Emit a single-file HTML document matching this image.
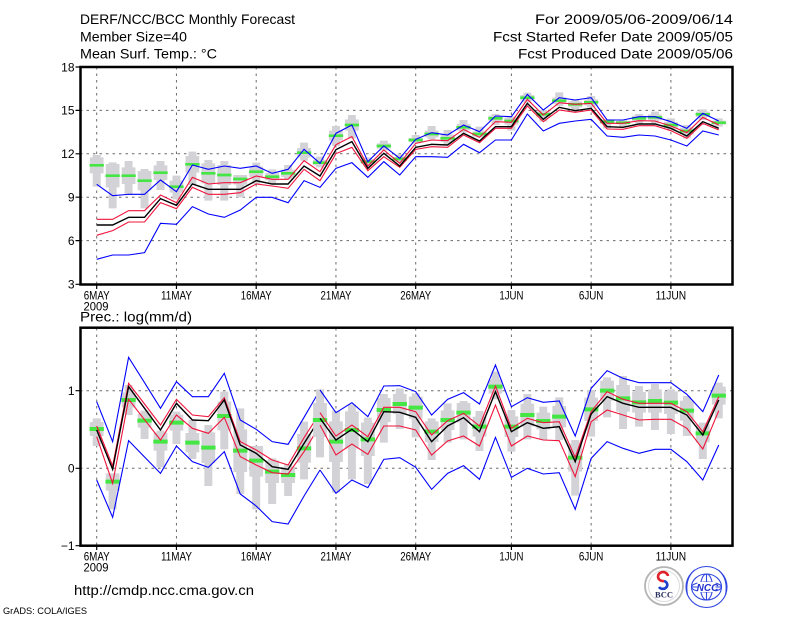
<!DOCTYPE html>
<html><head><meta charset="utf-8"><style>
html,body{margin:0;padding:0;background:#fff;}
svg{display:block;}
.tx{font-family:"Liberation Sans",sans-serif;fill:#000;}
.d polyline{fill:none;vector-effect:non-scaling-stroke;stroke-linejoin:miter;}
.bu{stroke:#0000ff;stroke-width:1.1;}
.rd{stroke:#f0143c;stroke-width:1.1;}
.bk{stroke:#000;stroke-width:1.4;}
.gw{fill:#d3d3d7;}
.gn{fill:#44e644;}
.grid{stroke:#6a6a6a;stroke-width:1;stroke-dasharray:2.5,4;fill:none;}
.tk{stroke:#000;stroke-width:1.2;}
</style></head><body>
<svg width="800" height="618" viewBox="0 0 800 618" xmlns="http://www.w3.org/2000/svg">
<rect width="800" height="618" fill="#fff"/>

<!-- Header -->
<text class="tx" x="80" y="24" font-size="14" textLength="215" lengthAdjust="spacingAndGlyphs">DERF/NCC/BCC Monthly Forecast</text>
<text class="tx" x="80" y="41.5" font-size="14" textLength="107" lengthAdjust="spacingAndGlyphs">Member Size=40</text>
<text class="tx" x="80" y="58.5" font-size="14" textLength="137" lengthAdjust="spacingAndGlyphs">Mean Surf. Temp.: °C</text>
<text class="tx" x="733" y="24" font-size="14" text-anchor="end" textLength="198" lengthAdjust="spacingAndGlyphs">For 2009/05/06-2009/06/14</text>
<text class="tx" x="733" y="41.5" font-size="14" text-anchor="end" textLength="240" lengthAdjust="spacingAndGlyphs">Fcst Started Refer Date 2009/05/05</text>
<text class="tx" x="733" y="58.5" font-size="14" text-anchor="end" textLength="215" lengthAdjust="spacingAndGlyphs">Fcst Produced Date 2009/05/06</text>

<!-- TOP CHART grid -->
<g class="grid">
<path d="M80 110.4H733M80 153.8H733M80 197.2H733M80 240.6H733"/>
<path d="M96.7 67V284M176.45 67V284M256.2 67V284M335.95 67V284M415.7 67V284M511.4 67V284M591.15 67V284M670.9 67V284"/>
</g>

<!-- TOP CHART data -->
<g class="d" transform="matrix(15.95 0 0 0.333333 96.7 60)">
<path class="gw" d="M-.25 285h.5v95h-.5zM.75 307h.5v138h-.5zM1.75 303h.5v102h-.5zM2.75 327h.5v118h-.5zM3.75 303h.5v87h-.5zM4.75 347h.5v71h-.5zM5.75 275h.5v100h-.5zM6.75 300h.5v122h-.5zM7.75 303h.5v119h-.5zM8.75 345h.5v67h-.5zM9.75 308h.5v64h-.5zM10.75 328h.5v44h-.5zM11.75 315h.5v43h-.5zM12.75 248h.5v54h-.5zM13.75 290h.5v32h-.5zM14.75 198h.5v60h-.5zM15.75 165h.5v70h-.5zM16.75 292h.5v28h-.5zM17.75 242h.5v30h-.5zM18.75 283h.5v25h-.5zM19.75 225h.5v25h-.5zM20.75 198h.5v40h-.5zM21.75 210h.5v42h-.5zM22.75 180h.5v38h-.5zM23.75 200h.5v32h-.5zM24.75 162h.5v33h-.5zM25.75 170h.5v42h-.5zM26.75 98h.5v30h-.5zM27.75 150h.5v35h-.5zM28.75 97h.5v41h-.5zM29.75 118h.5v37h-.5zM30.75 108h.5v34h-.5zM31.75 178h.5v27h-.5zM32.75 180h.5v20h-.5zM33.75 162h.5v30h-.5zM34.75 155h.5v35h-.5zM35.75 175h.5v37h-.5zM36.75 195h.5v40h-.5zM37.75 148h.5v32h-.5zM38.75 175h.5v25h-.5z"/>
<path class="gw" d="M-.43 292h.86v48h-.86zM.57 312h.86v70h-.86zM1.57 322h.86v50h-.86zM2.57 333h.86v58h-.86zM3.57 316h.86v44h-.86zM4.57 362h.86v36h-.86zM5.57 288h.86v50h-.86zM6.57 310h.86v60h-.86zM7.57 315h.86v60h-.86zM8.57 345h.86v29h-.86zM9.57 319h.86v32h-.86zM10.57 339h.86v22h-.86zM11.57 329h.86v22h-.86zM12.57 264h.86v28h-.86zM13.57 300h.86v16h-.86zM14.57 212h.86v30h-.86zM15.57 178h.86v34h-.86zM16.57 298h.86v14h-.86zM17.57 250h.86v16h-.86zM18.57 291h.86v12h-.86zM19.57 234h.86v12h-.86zM20.57 212h.86v20h-.86zM21.57 224h.86v22h-.86zM22.57 192h.86v20h-.86zM23.57 214h.86v16h-.86zM24.57 167h.86v16h-.86zM25.57 172h.86v22h-.86zM26.57 105h.86v16h-.86zM27.57 154h.86v18h-.86zM28.57 112h.86v20h-.86zM29.57 124h.86v18h-.86zM30.57 118h.86v18h-.86zM31.57 178h.86v14h-.86zM32.57 183h.86v10h-.86zM33.57 167h.86v16h-.86zM34.57 163h.86v18h-.86zM35.57 186h.86v18h-.86zM36.57 203h.86v20h-.86zM37.57 155h.86v16h-.86zM38.57 182h.86v12h-.86z"/>
<path class="gn" d="M-.45 312h.9v8h-.9zM.55 343h.9v8h-.9zM1.55 343h.9v8h-.9zM2.55 358h.9v8h-.9zM3.55 334h.9v8h-.9zM4.55 376h.9v8h-.9zM5.55 309h.9v8h-.9zM6.55 336h.9v8h-.9zM7.55 341h.9v8h-.9zM8.55 353h.9v8h-.9zM9.55 331h.9v8h-.9zM10.55 346h.9v8h-.9zM11.55 336h.9v8h-.9zM12.55 274h.9v8h-.9zM13.55 304h.9v8h-.9zM14.55 223h.9v8h-.9zM15.55 191h.9v8h-.9zM16.55 301h.9v8h-.9zM17.55 254h.9v8h-.9zM18.55 293h.9v8h-.9zM19.55 236h.9v8h-.9zM20.55 218h.9v8h-.9zM21.55 231h.9v8h-.9zM22.55 198h.9v8h-.9zM23.55 218h.9v8h-.9zM24.55 171h.9v8h-.9zM25.55 179h.9v8h-.9zM26.55 109h.9v8h-.9zM27.55 159h.9v8h-.9zM28.55 118h.9v8h-.9zM29.55 129h.9v8h-.9zM30.55 123h.9v8h-.9zM31.55 181h.9v8h-.9zM32.55 184h.9v8h-.9zM33.55 171h.9v8h-.9zM34.55 168h.9v8h-.9zM35.55 191h.9v8h-.9zM36.55 209h.9v8h-.9zM37.55 159h.9v8h-.9zM38.55 184h.9v8h-.9z"/>
<polyline class="bu" points="0,373 1,407 2,403 3,403 4,360 5,395 6,315 7,328 8,318 9,325 10,318 11,340 12,328 13,268 14,310 15,220 16,195 17,305 18,258 19,295 20,238 21,218 22,225 23,195 24,215 25,168 26,170 27,103 28,150 29,113 30,120 31,113 32,180 33,180 34,170 35,170 36,185 37,205 38,160 39,183"/>
<polyline class="bu" points="0,598 1,585 2,585 3,578 4,490 5,493 6,440 7,462 8,472 9,450 10,412 11,412 12,428 13,362 14,382 15,325 16,308 17,352 18,305 19,345 20,290 21,290 22,292 23,253 24,278 25,240 26,240 27,162 28,213 29,190 30,183 31,178 32,228 33,232 34,225 35,228 36,240 37,258 38,213 39,225"/>
<polyline class="rd" points="0,478 1,478 2,452 3,452 4,405 5,428 6,352 7,372 8,368 9,368 10,348 11,358 12,358 13,302 14,335 15,254 16,230 17,318 18,270 19,310 20,250 21,240 22,242 23,208 24,232 25,185 26,187 27,118 28,165 29,128 30,133 31,130 32,190 33,190 34,182 35,183 36,198 37,218 38,172 39,195"/>
<polyline class="rd" points="0,526 1,512 2,486 3,486 4,428 5,446 6,382 7,403 8,403 9,398 10,372 11,378 12,385 13,328 14,362 15,281 16,262 17,332 18,290 19,322 20,268 21,260 22,262 23,225 24,248 25,205 26,205 27,138 28,185 29,150 30,157 31,150 32,207 33,208 34,197 35,197 36,212 37,235 38,190 39,210"/>
<polyline class="bk" points="0,495 1,495 2,472 3,472 4,416 5,436 6,372 7,388 8,388 9,388 10,362 11,372 12,372 13,318 14,348 15,269 16,245 17,325 18,280 19,318 20,262 21,253 22,255 23,220 24,243 25,200 26,200 27,130 28,178 29,142 30,152 31,145 32,200 33,202 34,192 35,192 36,205 37,228 38,185 39,205"/>
</g>

<!-- TOP frame, ticks, labels -->
<rect x="80.5" y="67" width="652" height="217.5" fill="none" stroke="#000" stroke-width="2.5"/>
<path class="tk" d="M75.5 67H80M75.5 110.4H80M75.5 153.8H80M75.5 197.2H80M75.5 240.6H80M75.5 284.3H80"/>
<path class="tk" d="M96.7 284.5V289M176.45 284.5V289M256.2 284.5V289M335.95 284.5V289M415.7 284.5V289M511.4 284.5V289M591.15 284.5V289M670.9 284.5V289"/>
<g class="tx" font-size="12" text-anchor="end">
<text x="74.5" y="71.3">18</text>
<text x="74.5" y="114.7">15</text>
<text x="74.5" y="158.1">12</text>
<text x="74.5" y="201.5">9</text>
<text x="74.5" y="244.9">6</text>
<text x="74.5" y="288.6">3</text>
</g>
<g class="tx" font-size="12" text-anchor="middle">
<text x="96.7" y="299.5" textLength="26" lengthAdjust="spacingAndGlyphs">6MAY</text>
<text x="96" y="310.5" textLength="25" lengthAdjust="spacingAndGlyphs">2009</text>
<text x="176.45" y="299.5" textLength="31" lengthAdjust="spacingAndGlyphs">11MAY</text>
<text x="256.2" y="299.5" textLength="31" lengthAdjust="spacingAndGlyphs">16MAY</text>
<text x="335.95" y="299.5" textLength="31" lengthAdjust="spacingAndGlyphs">21MAY</text>
<text x="415.7" y="299.5" textLength="31" lengthAdjust="spacingAndGlyphs">26MAY</text>
<text x="511.4" y="299.5" textLength="24" lengthAdjust="spacingAndGlyphs">1JUN</text>
<text x="591.15" y="299.5" textLength="24.5" lengthAdjust="spacingAndGlyphs">6JUN</text>
<text x="670.9" y="299.5" textLength="30.5" lengthAdjust="spacingAndGlyphs">11JUN</text>
</g>

<text class="tx" x="80" y="321.5" font-size="13.5" textLength="112" lengthAdjust="spacingAndGlyphs">Prec.: log(mm/d)</text>

<!-- BOTTOM CHART grid -->
<g class="grid">
<path d="M80 390.7H733M80 468.3H733"/>
<path d="M96.7 328V545M176.45 328V545M256.2 328V545M335.95 328V545M415.7 328V545M511.4 328V545M591.15 328V545M670.9 328V545"/>
</g>

<!-- BOTTOM data part A (days 0-14) -->
<g class="d" transform="matrix(15.95 0 0 0.333333 96.7 340)">
<path class="gw" d="M-.25 235h.5v83h-.5zM.75 400h.5v108h-.5zM1.75 135h.5v90h-.5zM2.75 212h.5v85h-.5zM3.75 272h.5v110h-.5zM4.75 215h.5v97h-.5zM5.75 240h.5v117h-.5zM6.75 255h.5v183h-.5zM7.75 155h.5v173h-.5zM8.75 205h.5v257h-.5zM9.75 318h.5v190h-.5zM10.75 355h.5v137h-.5zM11.75 372h.5v96h-.5zM12.75 245h.5v173h-.5z"/>
<path class="gw" d="M-.43 246h.86v42h-.86zM.57 400h.86v52h-.86zM1.57 158h.86v44h-.86zM2.57 221h.86v42h-.86zM3.57 278h.86v54h-.86zM4.57 224h.86v48h-.86zM5.57 279h.86v58h-.86zM6.57 277h.86v92h-.86zM7.57 185h.86v86h-.86zM8.57 268h.86v128h-.86zM9.57 318h.86v92h-.86zM10.57 361h.86v68h-.86zM11.57 381h.86v48h-.86zM12.57 282h.86v86h-.86z"/>
<path class="gn" d="M-.45 261h.9v12h-.9zM.55 419h.9v12h-.9zM1.55 174h.9v12h-.9zM2.55 236h.9v12h-.9zM3.55 299h.9v12h-.9zM4.55 242h.9v12h-.9zM5.55 302h.9v12h-.9zM6.55 317h.9v12h-.9zM7.55 222h.9v12h-.9zM8.55 326h.9v12h-.9zM9.55 356h.9v12h-.9zM10.55 389h.9v12h-.9zM11.55 399h.9v12h-.9zM12.55 319h.9v12h-.9z"/>
<polyline class="bu" points="0,185 1,305 2,52 3,128 4,205 5,125 6,170 7,170 8,100 9,240 10,268 11,305 12,313 13,232 14,150"/>
<polyline class="bu" points="0,420 1,532 2,302 3,351 4,400 5,318 6,365 7,382 8,335 9,462 10,498 11,545 12,552 13,468 14,390"/>
<polyline class="rd" points="0,258 1,378 2,130 3,192 4,255 5,178 6,225 7,230 8,173 9,305 10,330 11,360 12,375 13,293 14,218"/>
<polyline class="rd" points="0,290 1,430 2,178 3,239 4,300 5,225 6,265 7,280 8,232 9,350 10,375 11,398 12,402 13,335 14,255"/>
<polyline class="bk" points="0,270 1,388 2,140 3,205 4,270 5,190 6,240 7,242 8,180 9,315 10,340 11,380 12,388 13,310 14,235"/>
</g>

<!-- BOTTOM data part B (days 14-39) -->
<g class="d" transform="matrix(15.95 0 0 0.333333 96.7 350)">
<path class="gw" d="M13.75 118h.5v204h-.5zM14.75 182h.5v246h-.5zM15.75 163h.5v225h-.5zM16.75 203h.5v199h-.5zM17.75 132h.5v146h-.5zM18.75 115h.5v122h-.5zM19.75 130h.5v132h-.5zM20.75 205h.5v125h-.5zM21.75 160h.5v118h-.5zM22.75 153h.5v115h-.5zM23.75 183h.5v120h-.5zM24.75 65h.5v83h-.5zM25.75 180h.5v125h-.5zM26.75 132h.5v136h-.5zM27.75 170h.5v100h-.5zM28.75 142h.5v128h-.5zM29.75 270h.5v167h-.5zM30.75 120h.5v140h-.5zM31.75 82h.5v120h-.5zM32.75 78h.5v159h-.5zM33.75 108h.5v122h-.5zM34.75 102h.5v138h-.5zM35.75 118h.5v134h-.5zM36.75 138h.5v120h-.5zM37.75 218h.5v109h-.5zM38.75 98h.5v107h-.5z"/>
<path class="gw" d="M13.57 159h.86v102h-.86zM14.57 214h.86v122h-.86zM15.57 184h.86v112h-.86zM16.57 218h.86v100h-.86zM17.57 144h.86v72h-.86zM18.57 132h.86v60h-.86zM19.57 140h.86v66h-.86zM20.57 214h.86v62h-.86zM21.57 181h.86v59h-.86zM22.57 159h.86v58h-.86zM23.57 200h.86v60h-.86zM24.57 89h.86v42h-.86zM25.57 199h.86v62h-.86zM26.57 161h.86v68h-.86zM27.57 188h.86v50h-.86zM28.57 168h.86v64h-.86zM29.57 281h.86v84h-.86zM30.57 143h.86v70h-.86zM31.57 92h.86v60h-.86zM32.57 105h.86v80h-.86zM33.57 126h.86v62h-.86zM34.57 118h.86v70h-.86zM35.57 124h.86v68h-.86zM36.57 152h.86v60h-.86zM37.57 223h.86v54h-.86zM38.57 110h.86v54h-.86z"/>
<path class="gn" d="M13.55 204h.9v12h-.9zM14.55 269h.9v12h-.9zM15.55 234h.9v12h-.9zM16.55 262h.9v12h-.9zM17.55 174h.9v12h-.9zM18.55 156h.9v12h-.9zM19.55 167h.9v12h-.9zM20.55 239h.9v12h-.9zM21.55 204h.9v12h-.9zM22.55 182h.9v12h-.9zM23.55 224h.9v12h-.9zM24.55 104h.9v12h-.9zM25.55 224h.9v12h-.9zM26.55 189h.9v12h-.9zM27.55 207h.9v12h-.9zM28.55 194h.9v12h-.9zM29.55 317h.9v12h-.9zM30.55 172h.9v12h-.9zM31.55 116h.9v12h-.9zM32.55 139h.9v12h-.9zM33.55 151h.9v12h-.9zM34.55 147h.9v12h-.9zM35.55 152h.9v12h-.9zM36.55 176h.9v12h-.9zM37.55 244h.9v12h-.9zM38.55 131h.9v12h-.9z"/>
<polyline class="bu" points="14,120 15,188 16,158 17,200 18,108 19,107 20,125 21,195 22,148 23,128 24,162 25,45 26,170 27,143 28,157 29,153 30,258 31,115 32,62 33,85 34,98 35,98 36,98 37,133 38,185 39,75"/>
<polyline class="bu" points="14,360 15,430 16,390 17,413 18,328 19,323 20,352 21,418 22,370 23,347 24,388 25,262 26,382 27,355 28,372 29,368 30,478 31,325 32,275 33,295 34,310 35,298 36,298 37,335 38,390 39,285"/>
<polyline class="rd" points="14,188 15,258 16,225 17,260 18,172 19,172 20,185 21,255 22,212 23,190 24,228 25,108 26,235 27,205 28,218 29,215 30,322 31,185 32,125 33,148 34,160 35,160 36,160 37,185 38,245 39,140"/>
<polyline class="rd" points="14,225 15,315 16,282 17,313 18,228 19,228 20,240 21,315 22,273 23,258 24,288 25,165 26,288 27,258 28,270 29,272 30,380 31,215 32,180 33,195 34,210 35,208 36,208 37,235 38,297 39,182"/>
<polyline class="bk" points="14,205 15,270 16,238 17,275 18,185 19,187 20,202 21,275 22,228 23,203 24,245 25,125 26,245 27,218 28,235 29,230 30,335 31,192 32,140 33,160 34,172 35,172 36,172 37,195 38,255 39,150"/>
</g>

<!-- BOTTOM frame, ticks, labels -->
<rect x="80.5" y="327.7" width="652" height="218" fill="none" stroke="#000" stroke-width="2.5"/>
<path class="tk" d="M75.5 390.7H80M75.5 468.3H80M75.5 545.7H80"/>
<path class="tk" d="M96.7 545.7V550M176.45 545.7V550M256.2 545.7V550M335.95 545.7V550M415.7 545.7V550M511.4 545.7V550M591.15 545.7V550M670.9 545.7V550"/>
<g class="tx" font-size="12" text-anchor="end">
<text x="74.5" y="395">1</text>
<text x="74.5" y="472.6">0</text>
<text x="74.5" y="550">−1</text>
</g>
<g class="tx" font-size="12" text-anchor="middle">
<text x="96.7" y="560.5" textLength="26" lengthAdjust="spacingAndGlyphs">6MAY</text>
<text x="96" y="571.5" textLength="25" lengthAdjust="spacingAndGlyphs">2009</text>
<text x="176.45" y="560.5" textLength="31" lengthAdjust="spacingAndGlyphs">11MAY</text>
<text x="256.2" y="560.5" textLength="31" lengthAdjust="spacingAndGlyphs">16MAY</text>
<text x="335.95" y="560.5" textLength="31" lengthAdjust="spacingAndGlyphs">21MAY</text>
<text x="415.7" y="560.5" textLength="31" lengthAdjust="spacingAndGlyphs">26MAY</text>
<text x="511.4" y="560.5" textLength="24" lengthAdjust="spacingAndGlyphs">1JUN</text>
<text x="591.15" y="560.5" textLength="24.5" lengthAdjust="spacingAndGlyphs">6JUN</text>
<text x="670.9" y="560.5" textLength="30.5" lengthAdjust="spacingAndGlyphs">11JUN</text>
</g>

<!-- Footer -->
<text class="tx" x="74" y="595" font-size="13.5" textLength="180" lengthAdjust="spacingAndGlyphs">http://cmdp.ncc.cma.gov.cn</text>
<text class="tx" x="3" y="614" font-size="9" textLength="84" lengthAdjust="spacingAndGlyphs">GrADS: COLA/IGES</text>

<!-- BCC logo -->
<g transform="translate(664,586)">
<circle r="19" fill="#fff" stroke="#b4b4b4" stroke-width="1.8"/>
<circle r="15.5" fill="none" stroke="#dcdcdc" stroke-width="1"/>
<path d="M4,-10 A5,4.5 0 1 0 0,-5" fill="none" stroke="#e0202a" stroke-width="2.6"/>
<path d="M0,-5 A4.5,4 0 1 1 -5,1" fill="none" stroke="#1d3fd0" stroke-width="2.6"/>
<text x="0" y="11.5" font-size="8.5" font-family="Liberation Serif, serif" font-weight="bold" text-anchor="middle" fill="#2a3060">BCC</text>
</g>

<!-- NCC logo -->
<g transform="translate(706.5,587)">
<circle r="21.5" fill="#fff"/>
<g fill="none" stroke="#2f44e0" stroke-width="1.1">
<circle r="20.5"/>
<path d="M-19,8 Q-22,-8 -12,-17 M19,8 Q22,-8 12,-17"/>
<ellipse rx="15" ry="13"/>
<ellipse rx="15" ry="5"/>
<ellipse rx="6" ry="13"/>
<path d="M-15 0H15M0 -13V13"/>
</g>
<rect x="-9" y="-5" width="18" height="10" fill="#fff"/>
<text x="1" y="4" font-size="10" font-family="Liberation Sans, sans-serif" font-weight="bold" font-style="italic" text-anchor="middle" fill="#2233cc">NCC</text>
</g>
</svg>
</body></html>
